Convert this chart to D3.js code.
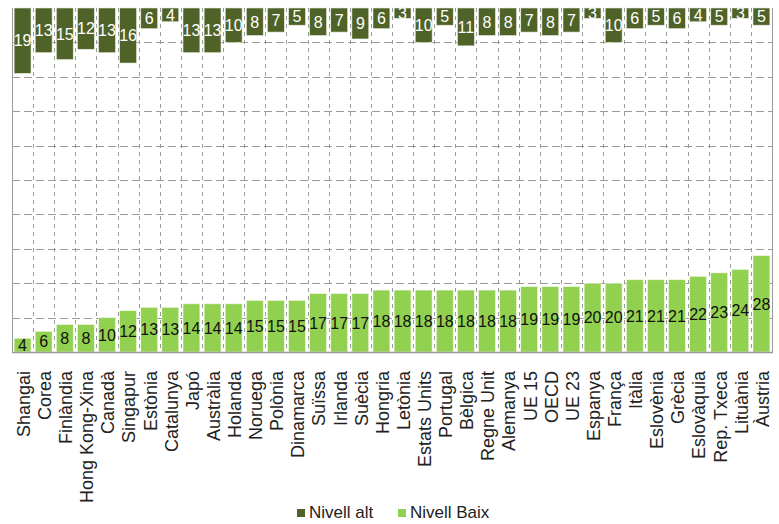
<!DOCTYPE html>
<html>
<head>
<meta charset="utf-8">
<script src="https://cdn.jsdelivr.net/npm/d3@7"></script>
<style>
  html, body { margin: 0; padding: 0; background: #fff; }
  svg { display: block; }
</style>
</head>
<body>
<div id="chart"></div>
<script>
const categories = ["Shangai","Corea","Finlàndia","Hong Kong-Xina","Canadà","Singapur","Estònia","Catalunya","Japó","Austràlia","Holanda","Noruega","Polònia","Dinamarca","Suïssa","Irlanda","Suècia","Hongria","Letònia","Estats Units","Portugal","Bèlgica","Regne Unit","Alemanya","UE 15","OECD","UE 23","Espanya","França","Itàlia","Eslovènia","Grècia","Eslovàquia","Rep. Txeca","Lituània","Àustria"];
const nivellAlt = [19,13,15,12,13,16,6,4,13,13,10,8,7,5,8,7,9,6,3,10,5,11,8,8,7,8,7,3,10,6,5,6,4,5,3,5];
const nivellBaix = [4,6,8,8,10,12,13,13,14,14,14,15,15,15,17,17,17,18,18,18,18,18,18,18,19,19,19,20,20,21,21,21,22,23,24,28];
const yTicks = [0,10,20,30,40,50,60,70,80,90,100];
const seriesNames = ["Nivell alt","Nivell Baix"];
const seriesColors = ["#4F6228","#92D050"];

const W = 779, H = 524;
const plot = {left: 12, right: 772, top: 8, bottom: 352};

const svg = d3.select("#chart").append("svg").attr("width", W).attr("height", H)
  .style("font-family", "'Liberation Sans', Arial, sans-serif");

const x = d3.scaleBand().domain(categories).range([plot.left, plot.right]).paddingInner(0.2).paddingOuter(0.1);
const y = d3.scaleLinear().domain([0, 100]).range([plot.bottom, plot.top]);
const step = x.step();
const boundary = d => x(d) - x.paddingInner() * step / 2;

svg.append("defs").append("clipPath").attr("id", "clip")
  .append("rect").attr("x", plot.left).attr("y", plot.top)
  .attr("width", plot.right - plot.left).attr("height", plot.bottom - plot.top);

// grid
const grid = svg.append("g");
grid.selectAll("line.h").data(yTicks.filter(t => t > 0 && t < 100)).join("line")
  .attr("x1", plot.left).attr("x2", plot.right)
  .attr("y1", d => Math.round(y(d)) + 0.5).attr("y2", d => Math.round(y(d)) + 0.5)
  .attr("stroke", "#999").attr("stroke-width", 1).attr("stroke-dasharray", "8,4");
grid.selectAll("line.v").data(categories.slice(1)).join("line")
  .attr("x1", d => Math.round(boundary(d)) + 0.5)
  .attr("x2", d => Math.round(boundary(d)) + 0.5)
  .attr("y1", plot.top).attr("y2", plot.bottom)
  .attr("stroke", "#999").attr("stroke-width", 1).attr("stroke-dasharray", "4,4");

// bars
const bars = svg.append("g");
bars.selectAll("rect.alt").data(categories).join("rect")
  .attr("x", d => x(d)).attr("width", x.bandwidth())
  .attr("y", y(100)).attr("height", (d, i) => y(100 - nivellAlt[i]) - y(100))
  .attr("fill", seriesColors[0]).attr("stroke", "#e8efe0").attr("stroke-width", 0.6);
bars.selectAll("rect.baix").data(categories).join("rect")
  .attr("x", d => x(d)).attr("width", x.bandwidth())
  .attr("y", (d, i) => y(nivellBaix[i])).attr("height", (d, i) => y(0) - y(nivellBaix[i]))
  .attr("fill", seriesColors[1]).attr("stroke", "#f0f8e8").attr("stroke-width", 0.6);

// axes lines
svg.append("line").attr("x1", plot.left + 0.5).attr("x2", plot.left + 0.5).attr("y1", plot.top).attr("y2", plot.bottom + 0.5).attr("stroke", "#999");
svg.append("line").attr("x1", plot.right + 0.5).attr("x2", plot.right + 0.5).attr("y1", plot.top).attr("y2", plot.bottom + 0.5).attr("stroke", "#999");
svg.append("line").attr("x1", plot.left).attr("x2", plot.right + 1).attr("y1", plot.bottom + 0.5).attr("y2", plot.bottom + 0.5).attr("stroke", "#999").attr("stroke-width", 1.5);

// value labels
const labels = svg.append("g").attr("clip-path", "url(#clip)").style("font-size", "16px");
labels.selectAll("text.alt").data(categories).join("text")
  .attr("x", d => x(d) + x.bandwidth() / 2)
  .attr("y", (d, i) => (y(100) + y(100 - nivellAlt[i])) / 2)
  .attr("dy", "0.36em").attr("text-anchor", "middle").attr("fill", "#fff")
  .text((d, i) => nivellAlt[i]);
labels.selectAll("text.baix").data(categories).join("text")
  .attr("x", d => x(d) + x.bandwidth() / 2)
  .attr("y", (d, i) => (y(0) + y(nivellBaix[i])) / 2)
  .attr("dy", "0.36em").attr("text-anchor", "middle").attr("fill", "#111")
  .text((d, i) => nivellBaix[i]);

// x axis labels
svg.append("g").selectAll("text").data(categories).join("text")
  .attr("transform", d => `translate(${x(d) + x.bandwidth() / 2 + 1},371) rotate(-90)`)
  .attr("dy", "0.35em").attr("text-anchor", "end")
  .attr("fill", "#222").style("font-size", "18px")
  .text(d => d);

// legend
const legend = svg.append("g");
const lx = [297, 398];
seriesNames.forEach((n, i) => {
  legend.append("rect").attr("x", lx[i]).attr("y", 509).attr("width", 8).attr("height", 8).attr("fill", seriesColors[i]);
  legend.append("text").attr("x", lx[i] + 12).attr("y", 518).attr("fill", "#222").style("font-size", "17px").text(n);
});
</script>
</body>
</html>
